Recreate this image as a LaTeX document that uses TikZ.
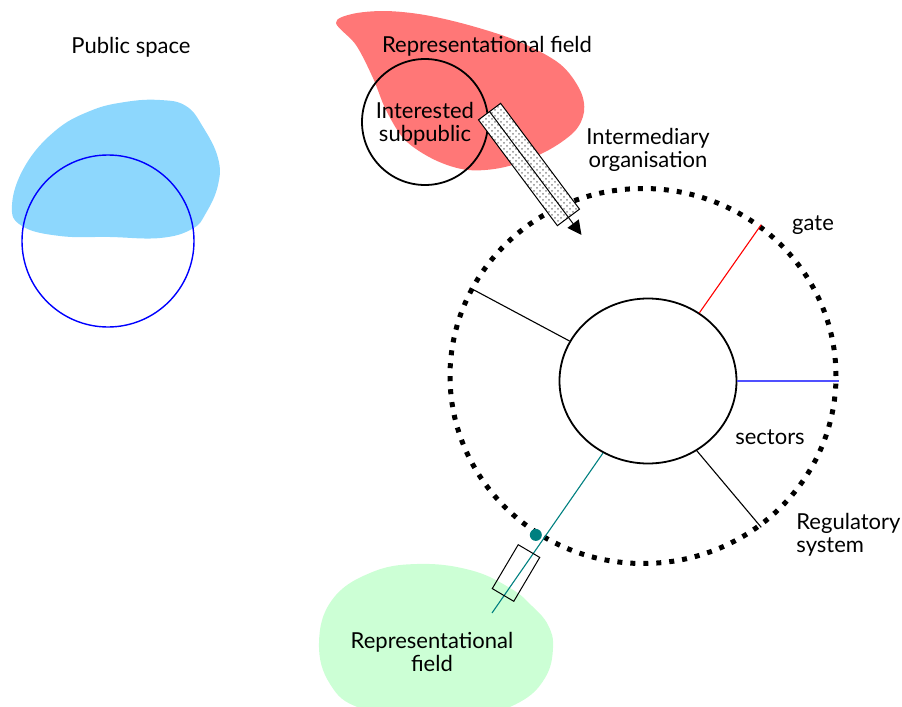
\documentclass[tikz,border=0pt]{standalone}
\usepackage{fontspec}
\setmainfont{Lato}
\usepackage{tikz}
\usetikzlibrary{shapes,arrows.meta,positioning,calc,patterns}
\definecolor{pubBlue}{RGB}{141,215,253}
\definecolor{repRed}{RGB}{255,119,119}
\definecolor{repGreen}{RGB}{204,255,213}
\definecolor{secBlue}{RGB}{80,80,255}
\definecolor{secTeal}{RGB}{0,128,128}

\begin{document}
\begin{tikzpicture}[
    x=0.5pt, y=-0.5pt,
    lbl/.style={font=\fontsize{11}{11.5}\selectfont, align=center, inner sep=0pt},
    ring/.style={ellipse, draw, inner sep=0pt},
    sector/.style={line width=0.55pt},
    boxbase/.style={rectangle, draw, line width=0.5pt, inner sep=0pt},
    arr/.style={-{Triangle[length=7pt, width=7pt]}, line width=0.5pt}
]
\useasboundingbox (0,0) rectangle (902,707);

% blobs
\fill[pubBlue] plot[smooth cycle, tension=0.7] coordinates {(12,205) (22,226) (60,236) (110,237) (160,238) (192,229) (206,213) (218,185) (218,158) (203,127) (186,106) (160,100) (125,102) (90,111) (55,131) (25,166)};
\fill[repRed] plot[smooth cycle, tension=0.55] coordinates {(336,23) (352,14) (385,11) (425,15) (472,26) (520,42) (560,64) (580,90) (584,112) (574,132) (545,152) (505,167) (468,170) (435,160) (405,140) (386,110) (373,78) (356,45)};
\fill[repGreen] plot[smooth cycle, tension=0.7] coordinates {(319,643) (332,600) (370,573) (417,564) (470,570) (510,588) (532,606) (548,625) (553,648) (545,678) (520,702) (480,714) (420,717) (360,708) (330,684)};

% circles
\node[circle, draw=blue, line width=0.7pt, minimum size=86pt, inner sep=0pt] (pubcirc) at (108,241) {};
\node[circle, draw, line width=0.9pt, minimum size=63pt, inner sep=0pt] (subpub) at (425,122) {};
\node[ring, line width=2.5pt, dash pattern=on 2.5pt off 4pt, minimum width=193pt, minimum height=187.5pt] (regsys) at (643,376) {};
\node[ring, line width=0.9pt, minimum width=88.5pt, minimum height=82.5pt] (core) at (648,381) {};

% sectors
\draw[sector, red] (core.53) -- (regsys.52);
\draw[sector, secBlue] (core.east) -- (core.east -| regsys.east);
\draw[sector] (core.153) -- (regsys.153);
\draw[sector] (core.-55) -- (regsys.-52);
\coordinate (tealend) at (492,613);
\draw[sector, secTeal] (core.-122) -- (tealend);
\node[circle, fill=secTeal, minimum size=6pt, inner sep=0pt] (tealdot) at (regsys.-124) {};
\node[boxbase, minimum width=25.5pt, minimum height=12.5pt, rotate=59.4] (lowbox) at (516,573) {};

% intermediary
\node[boxbase, minimum width=66pt, minimum height=13.8pt, preaction={fill=white}, pattern=crosshatch dots, pattern color=black!45, rotate=-53.3] (midbox) at (529,164.5) {};
\draw[arr] (midbox.west) -- ($(midbox.west)!1.16!(midbox.east)$);

% labels
\node[lbl] (pubtxt) at (131,47) {Public space};
\node[lbl] (reptxt) at (487,46) {Representational field};
\node[lbl] (subtxt) at (425,124) {Interested\\subpublic};
\node[lbl] (midtxt) at (648,150) {Intermediary\\organisation};
\node[lbl] (gatetxt) at (813,225) {gate};
\node[lbl] (sectxt) at (770,437) {sectors};
\node[lbl, align=left, anchor=west] (regtxt) at (796,535) {Regulatory\\system};
\node[lbl] (rep2txt) at (432,652) {Representational\\field};
\end{tikzpicture}
\end{document}
